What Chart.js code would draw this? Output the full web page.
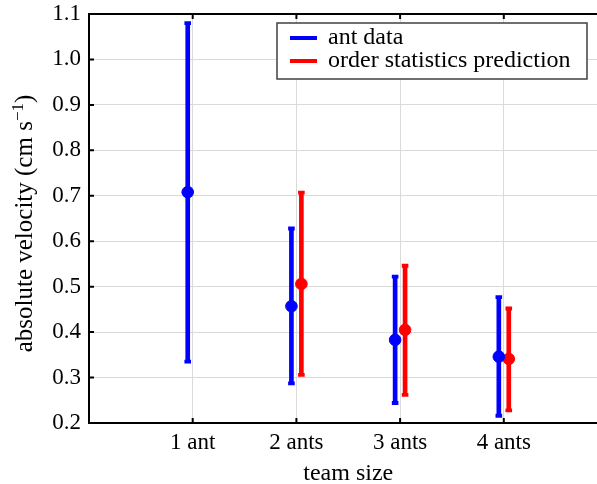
<!DOCTYPE html>
<html>
<head>
<meta charset="utf-8">
<script src="https://cdn.jsdelivr.net/npm/chart.js@4/dist/chart.umd.min.js"></script>
<style>
  html, body { margin: 0; padding: 0; background: #fff; overflow: hidden; }
  #wrap { width: 597px; height: 484px; overflow: hidden; }
</style>
</head>
<body>
<div id="wrap"><canvas id="graph" width="620" height="484"></canvas></div>
<script>
// team sizes and their axis labels
var teamSizes = [1, 2, 3, 4];
var sizeLabels = ['1 ant', '2 ants', '3 ants', '4 ants'];
var yTicks = [0.2, 0.3, 0.4, 0.5, 0.6, 0.7, 0.8, 0.9, 1.0, 1.1];

// measured ant velocities (mean with lower/upper bar ends)
var antMean = [0.708, 0.457, 0.383, 0.346];
var antLow  = [0.335, 0.287, 0.244, 0.216];
var antHigh = [1.080, 0.628, 0.522, 0.477];

// order statistics prediction (no value for a single ant)
var predSizes = [2, 3, 4];
var predMean = [0.506, 0.405, 0.341];
var predLow  = [0.306, 0.262, 0.228];
var predHigh = [0.707, 0.546, 0.452];

var BLUE = '#0000ff';
var RED = '#ff0000';
var shift = 0.048;   // side-by-side offset of the two series
var serif = 'Liberation Serif, Times New Roman, serif';

Chart.defaults.font.family = serif;
Chart.defaults.color = '#000';

function bars(xs, lo, hi, dx) {
  return xs.map(function (x, i) { return { x: x + dx, y: [lo[i], hi[i]] }; });
}
function pts(xs, ys, dx) {
  return xs.map(function (x, i) { return { x: x + dx, y: ys[i] }; });
}
function caps(xs, lo, hi, dx) {
  var out = [];
  xs.forEach(function (x, i) {
    out.push({ x: x + dx, y: lo[i] });
    out.push({ x: x + dx, y: hi[i] });
  });
  return out;
}

function errorSet(label, color, xs, lo, hi, dx) {
  return [{
    type: 'bar', label: label, data: bars(xs, lo, hi, dx),
    backgroundColor: color, borderWidth: 0, barThickness: 4, grouped: false, order: 3
  }, {
    type: 'scatter', data: caps(xs, lo, hi, dx), pointStyle: 'line',
    pointRadius: 3.3, pointHoverRadius: 3.3, borderColor: color, pointBorderWidth: 3.8, order: 2
  }];
}

var series = [
  { label: 'ant data', color: BLUE },
  { label: 'order statistics prediction', color: RED }
];

// frame, inward tick marks, y title with superscript and boxed legend
var decor = {
  id: 'decor',
  afterDatasetsDraw: function (chart) {
    var ctx = chart.ctx, a = chart.chartArea;
    var xs = chart.scales.x, ys = chart.scales.y;
    ctx.save();
    ctx.strokeStyle = '#000';
    ctx.lineWidth = 2;
    ctx.beginPath();
    ctx.moveTo(a.right, a.top); ctx.lineTo(a.left, a.top);
    ctx.lineTo(a.left, a.bottom); ctx.lineTo(a.right, a.bottom);
    ctx.stroke();
    ctx.beginPath();
    teamSizes.forEach(function (v) {
      var px = xs.getPixelForValue(v);
      ctx.moveTo(px, a.bottom); ctx.lineTo(px, a.bottom - 5);
      ctx.moveTo(px, a.top); ctx.lineTo(px, a.top + 5);
    });
    yTicks.forEach(function (v) {
      var py = ys.getPixelForValue(v);
      ctx.moveTo(a.left, py); ctx.lineTo(a.left + 5, py);
    });
    ctx.stroke();

    // legend
    var bx = 277, by = 23, bw = 310, bh = 56;
    ctx.fillStyle = '#fff';
    ctx.fillRect(bx, by, bw, bh);
    ctx.strokeStyle = '#404040';
    ctx.lineWidth = 1.5;
    ctx.strokeRect(bx, by, bw, bh);
    ctx.font = '24px ' + serif;
    ctx.textBaseline = 'alphabetic';
    ctx.textAlign = 'left';
    series.forEach(function (s, i) {
      var ly = 38 + i * 23;
      ctx.strokeStyle = s.color;
      ctx.lineWidth = 4;
      ctx.beginPath();
      ctx.moveTo(290, ly); ctx.lineTo(317, ly);
      ctx.stroke();
      ctx.fillStyle = '#000';
      ctx.fillText(s.label, 328, ly + 6.3);
    });

    // y axis title
    var main = 'absolute velocity (cm s', sup = '\u22121', tail = ')';
    ctx.font = '25px ' + serif;
    var w1 = ctx.measureText(main).width, w3 = ctx.measureText(tail).width;
    ctx.font = '17px ' + serif;
    var w2 = ctx.measureText(sup).width;
    var x0 = -(w1 + w2 + w3) / 2;
    ctx.translate(32, (a.top + a.bottom) / 2 + 5);
    ctx.rotate(-Math.PI / 2);
    ctx.fillStyle = '#000';
    ctx.font = '25px ' + serif;
    ctx.fillText(main, x0, 0);
    ctx.font = '17px ' + serif;
    ctx.fillText(sup, x0 + w1, -9.5);
    ctx.font = '25px ' + serif;
    ctx.fillText(tail, x0 + w1 + w2, 0);
    ctx.restore();
  }
};

var datasets = [].concat(
  [{
    type: 'scatter', data: pts(teamSizes, antMean, -shift),
    backgroundColor: BLUE, borderColor: BLUE, pointRadius: 5.8, pointHoverRadius: 5.8, order: 1
  }, {
    type: 'scatter', data: pts(predSizes, predMean, shift),
    backgroundColor: RED, borderColor: RED, pointRadius: 5.8, pointHoverRadius: 5.8, order: 1
  }],
  errorSet('ant data', BLUE, teamSizes, antLow, antHigh, -shift),
  errorSet('order statistics prediction', RED, predSizes, predLow, predHigh, shift)
);

var graph = new Chart('graph', {
  type: 'scatter',
  data: { datasets: datasets },
  plugins: [decor],
  options: {
    responsive: false,
    animation: false,
    events: [],
    layout: { padding: { left: 0, top: 14, right: 12.5, bottom: 0 } },
    plugins: { legend: { display: false }, tooltip: { enabled: false } },
    scales: {
      x: {
        type: 'linear', min: 0, max: 5, offset: false,
        grid: { color: '#dadada', lineWidth: 1, drawTicks: false, offset: false },
        border: { display: false },
        afterBuildTicks: function (s) { s.ticks = teamSizes.map(function (v) { return { value: v }; }); },
        afterFit: function (s) { s.height = 61; s.paddingLeft = 0; s.paddingRight = 0; },
        ticks: {
          autoSkip: false, maxRotation: 0, padding: 6, font: { size: 23 },
          callback: function (v) { return sizeLabels[teamSizes.indexOf(v)]; }
        },
        title: { display: true, text: 'team size', font: { size: 24 }, padding: { top: 0, bottom: -4 } }
      },
      y: {
        type: 'linear', min: 0.2, max: 1.1,
        grid: { color: '#dadada', lineWidth: 1, drawTicks: false },
        border: { display: false },
        afterBuildTicks: function (s) { s.ticks = yTicks.map(function (v) { return { value: v }; }); },
        afterFit: function (s) { s.width = 89; s.paddingTop = 0; s.paddingBottom = 0; },
        ticks: {
          padding: 8, font: { size: 23 },
          callback: function (v) { return v.toFixed(1); }
        }
      }
    }
  }
});
</script>
</body>
</html>
